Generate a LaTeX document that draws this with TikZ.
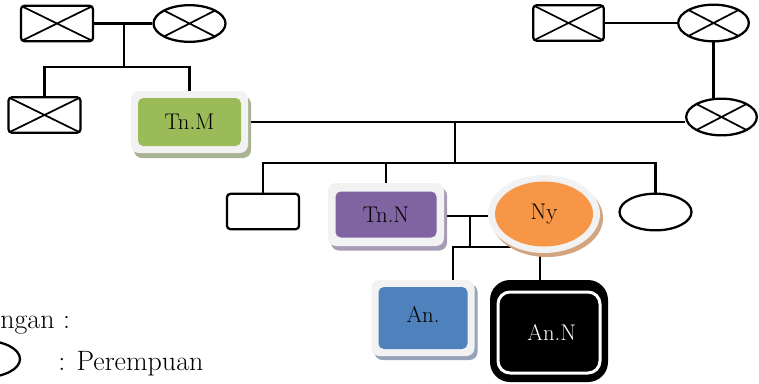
\documentclass[tikz,border=0pt]{standalone}
\usepackage{fontspec}
\usetikzlibrary{shapes.geometric,backgrounds}
\definecolor{cgreen}{HTML}{9BBB59}
\definecolor{cpurple}{HTML}{8064A2}
\definecolor{corange}{HTML}{F79646}
\definecolor{cblue}{HTML}{4F81BD}
\definecolor{cframe}{HTML}{F2F2F2}
\definecolor{shgreen}{HTML}{A8B394}
\definecolor{shpurple}{HTML}{A69CB6}
\definecolor{shorange}{HTML}{D2A580}
\definecolor{shblue}{HTML}{97A3BA}
\begin{document}
\begin{tikzpicture}[x=0.75pt,y=-0.75pt,
  conn/.style={line width=1.6pt},
  xcross/.style={path picture={\draw[line width=1.3pt]
      (path picture bounding box.north west) -- (path picture bounding box.south east)
      (path picture bounding box.south west) -- (path picture bounding box.north east);}},
  malebox/.style={draw, line width=1.7pt, fill=white, rectangle, rounded corners=2.5pt,
      minimum width=54pt, minimum height=26.5pt, inner sep=0pt},
  femell/.style={draw, line width=1.7pt, fill=white, ellipse,
      minimum width=54pt, minimum height=27.5pt, inner sep=0pt},
  framebox/.style={rectangle, rounded corners=6pt, fill=cframe, inner sep=0pt},
  innerbox/.style={rectangle, rounded corners=4pt, inner sep=0pt,
      font=\fontsize{17}{20}\selectfont},
  frameell/.style={ellipse, fill=cframe, inner sep=0pt},
  legtext/.style={inner sep=0pt, font=\fontsize{21}{25}\selectfont}
]
\useasboundingbox (0,0) rectangle (759,383);

% grandparents left
\node[malebox, xcross] (gf1) at (57,23.5) {};
\node[femell, xcross] (gm1) at (189.5,23.5) {};
\node[malebox, xcross] (u1) at (44.5,115) {};

% Tn.M
\node[framebox, fill=shgreen, minimum width=87.75pt, minimum height=46.5pt] (TnMsh) at (192.5,127) {};
\node[framebox, minimum width=87.75pt, minimum height=46.5pt] (TnM) at (189.5,122) {};
\node[innerbox, fill=cgreen, minimum width=77.25pt, minimum height=36pt] (TnMin) at (TnM) {Tn.M};

% grandparents right
\node[malebox, xcross, minimum width=53pt] (gf2) at (568.5,23) {};
\node[femell, xcross, minimum width=53pt] (gm2) at (713.5,23) {};
\node[femell, xcross, minimum width=53pt] (m) at (721.5,117) {};

% children
\node[malebox] (s1) at (263,211.5) {};
\node[femell] (s2) at (655.5,212) {};

% Tn.N
\node[framebox, fill=shpurple, minimum width=87pt, minimum height=47.25pt] (TnNsh) at (389,219) {};
\node[framebox, minimum width=87pt, minimum height=47.25pt] (TnN) at (386,214.5) {};
\node[innerbox, fill=cpurple, minimum width=75.75pt, minimum height=34.5pt] (TnNin) at (TnN) {Tn.N};

% Ny
\node[frameell, fill=shorange, minimum width=84pt, minimum height=58.5pt] (Nysh) at (547,218) {};
\node[frameell, minimum width=84pt, minimum height=58.5pt] (Ny) at (544,214) {};
\node[ellipse, fill=corange, inner sep=0pt, minimum width=73.5pt, minimum height=48.75pt,
      font=\fontsize{17}{20}\selectfont] (Nyin) at (Ny) {Ny};

% An.
\node[framebox, fill=shblue, minimum width=77.25pt, minimum height=57pt] (Ansh) at (426,322) {};
\node[framebox, minimum width=77.25pt, minimum height=57pt] (An) at (423,318) {};
\node[innerbox, fill=cblue, minimum width=66.75pt, minimum height=46.5pt,
      text depth=0pt, anchor=center] (Anin) at (An) {\raisebox{5pt}{An.}};

% An.N
\node[rectangle, rounded corners=15pt, fill=black, minimum width=88.5pt, minimum height=76.5pt,
      inner sep=0pt] (AnN) at (549,331) {};
\node[rectangle, rounded corners=9pt, draw=white, line width=2.25pt, fill=black,
      minimum width=76.5pt, minimum height=60.75pt, inner sep=0pt, text=white,
      font=\fontsize{17}{20}\selectfont] (AnNin) at (549,332.5) {\hspace{4pt}An.N};

% legend
\node[legtext, anchor=base west] (leg1) at (0,328) {ngan :};
\node[femell] (legell) at (-16,359) {};
\node[legtext, anchor=base west] (leg2) at (58,370) {: Perempuan};

% connectors
\coordinate (c1) at (124,23.5);
\coordinate (b1) at (124,67);
\coordinate (c2) at (455,122);
\coordinate (b2) at (455,163);
\coordinate (c3) at (470,216);
\coordinate (k1) at (453,247);
\coordinate (k2) at (540,247);
\begin{scope}[on background layer]
\draw[conn] (gf1) -- (gm1);
\draw[conn] (c1) -- (b1);
\draw[conn] (u1.north) |- (b1) -| (TnM.north);
\draw[conn] (gf2) -- (gm2);
\draw[conn] (gm2.south) -- (gm2.south |- m.north);
\draw[conn] (TnM.east |- c2) -- (c2) -- (c2 -| m.west);
\draw[conn] (c2) -- (b2);
\draw[conn] (s1.north) |- (b2) -| (s2.north);
\draw[conn] (TnN.north) -- (TnN.north |- b2);
\draw[conn] (TnN.east |- c3) -- (c3) -- (c3 -| Ny.west);
\draw[conn] (c3) -- (c3 |- k1);
\draw[conn] (k1 |- An.north) -- (k1) -- (k2) -- (k2 |- AnN.north);
\end{scope}
\end{tikzpicture}
\end{document}
